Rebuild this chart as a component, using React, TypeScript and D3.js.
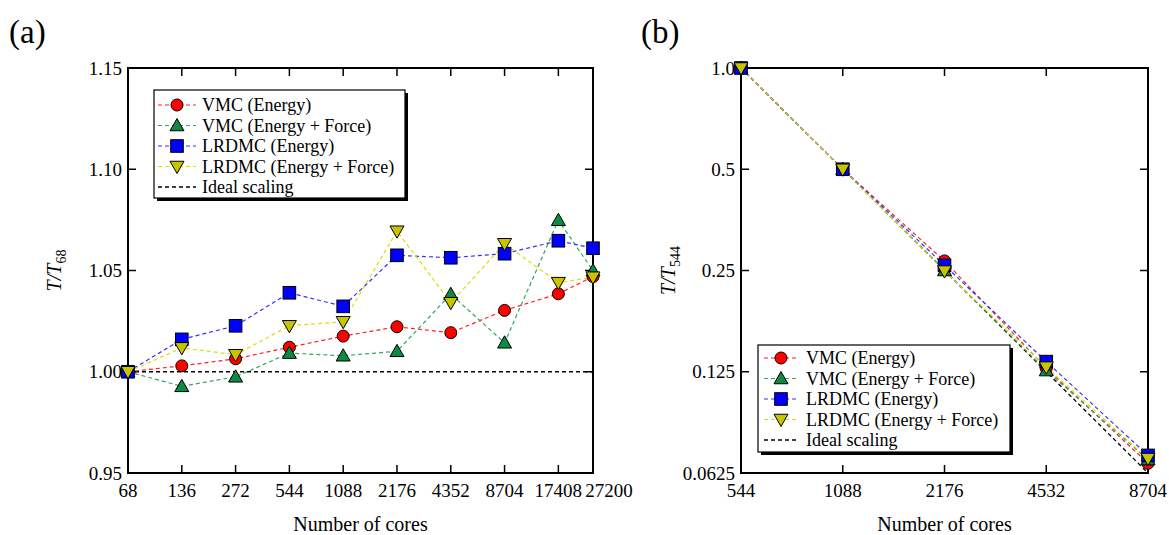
import React from "react";
import * as d3 from "d3";

// ---------- Data ----------
const coresA = [68, 136, 272, 544, 1088, 2176, 4352, 8704, 17408, 27200];
const vmcEnergyA = [1.0, 1.0029, 1.0064, 1.0121, 1.0176, 1.0222, 1.0193, 1.0303, 1.0385, 1.047];
const vmcForceA = [1.0, 0.9928, 0.9975, 1.0092, 1.0079, 1.0101, 1.0383, 1.0143, 1.0748, 1.0499];
const lrdmcEnergyA = [1.0, 1.016, 1.0227, 1.039, 1.0323, 1.0575, 1.0563, 1.0583, 1.0647, 1.061];
const lrdmcForceA = [1.0, 1.0118, 1.0084, 1.0227, 1.0247, 1.0694, 1.0341, 1.0632, 1.044, 1.0467];
const idealA = [1.0, 1.0, 1.0, 1.0, 1.0, 1.0, 1.0, 1.0, 1.0, 1.0];
const xTickLabelsA = ["68", "136", "272", "544", "1088", "2176", "4352", "8704", "17408", "27200"];
const yTicksA = [0.95, 1.0, 1.05, 1.1, 1.15];
const yTickLabelsA = ["0.95", "1.00", "1.05", "1.10", "1.15"];

const coresB = [544, 1088, 2176, 4352, 8704];
const vmcEnergyB = [1.0, 0.5, 0.267, 0.128, 0.0668];
const vmcForceB = [1.0, 0.5, 0.25, 0.126, 0.0685];
const lrdmcEnergyB = [1.0, 0.5, 0.259, 0.134, 0.0705];
const lrdmcForceB = [1.0, 0.5, 0.249, 0.129, 0.069];
const idealB = [1.0, 0.5, 0.25, 0.125, 0.0625];
const xTickLabelsB = ["544", "1088", "2176", "4532", "8704"];
const yTicksB = [0.0625, 0.125, 0.25, 0.5, 1.0];
const yTickLabelsB = ["0.0625", "0.125", "0.25", "0.5", "1.0"];

const seriesNames = [
  "VMC (Energy)",
  "VMC (Energy + Force)",
  "LRDMC (Energy)",
  "LRDMC (Energy + Force)",
  "Ideal scaling",
];

// ---------- Styles ----------
const FONT = "Liberation Serif, Times New Roman, Times, DejaVu Serif, serif";
const textStyle = { fontFamily: FONT };
const styles = [
  { marker: "circle", fill: "#ff0000", line: "#ff2020" },
  { marker: "triangle", fill: "#0e8a45", line: "#2fa860" },
  { marker: "square", fill: "#0000ff", line: "#3030ff" },
  { marker: "triangleDown", fill: "#c8c400", line: "#dcdc10" },
];

function Marker({ kind, x, y, fill }: { kind: string; x: number; y: number; fill: string }) {
  const s = 6.3;
  if (kind === "circle") return <circle cx={x} cy={y} r={6} fill={fill} stroke="#000" strokeWidth={1} />;
  if (kind === "square")
    return <rect x={x - s} y={y - s} width={2 * s} height={2 * s} fill={fill} stroke="#000" strokeWidth={1} />;
  if (kind === "triangle") {
    const h = 7;
    const pts = `${x},${y - h} ${x + h},${y + h * 0.75} ${x - h},${y + h * 0.75}`;
    return <polygon points={pts} fill={fill} stroke="#000" strokeWidth={1} />;
  }
  const h = 7;
  const pts = `${x},${y + h} ${x + h},${y - h * 0.75} ${x - h},${y - h * 0.75}`;
  return <polygon points={pts} fill={fill} stroke="#000" strokeWidth={1} />;
}

type PanelProps = {
  left: number; right: number; top: number; bottom: number;
  xs: number[]; series: number[][]; ideal: number[];
  xLabels: string[]; yTicks: number[]; yLabels: string[];
  yDomain: [number, number]; yLog: boolean; lastLabelShift: number;
  sub: string; tag: string; tagX: number; titleX: number;
  legend: { x0: number; y0: number; x1: number; y1: number; rowY: number; markerX: number; lineX0: number; lineX1: number; textX: number };
};

function Panel(p: PanelProps) {
  const x = d3.scaleLog().base(2).domain([p.xs[0], p.xs[p.xs.length - 1]]).range([p.left, p.right]);
  const y = p.yLog
    ? d3.scaleLog().base(2).domain(p.yDomain).range([p.bottom, p.top])
    : d3.scaleLinear().domain(p.yDomain).range([p.bottom, p.top]);
  const line = d3.line<number>().x((_, i) => x(p.xs[i])).y((v) => y(v));
  const tl = 8;
  const rowH = 20.5;
  const L = p.legend;
  const n = p.xs.length;
  return (
    <g style={textStyle}>
      <text x={p.tagX} y={43} fontFamily={FONT} fontSize={33}>{p.tag}</text>
      {/* ideal line */}
      <path d={line(p.ideal) || ""} fill="none" stroke="#000" strokeWidth={1.3} strokeDasharray="4,3" />
      {p.series.map((s, k) => (
        <path key={"l" + k} d={line(s) || ""} fill="none" stroke={styles[k].line} strokeWidth={1.2} strokeDasharray="4,3" />
      ))}
      {/* frame */}
      <rect x={p.left} y={p.top} width={p.right - p.left} height={p.bottom - p.top} fill="none" stroke="#000" strokeWidth={2} />
      {/* x ticks */}
      {p.xs.map((v, i) => (
        <g key={"xt" + i}>
          <line x1={x(v)} x2={x(v)} y1={p.bottom} y2={p.bottom - tl} stroke="#000" strokeWidth={1.5} />
          <line x1={x(v)} x2={x(v)} y1={p.top} y2={p.top + tl} stroke="#000" strokeWidth={1.5} />
          <text x={x(v) + (i === n - 1 ? p.lastLabelShift : 0)} y={p.bottom + 24} textAnchor="middle" fontFamily={FONT} fontSize={19}>{p.xLabels[i]}</text>
        </g>
      ))}
      {/* y ticks */}
      {p.yTicks.map((v, i) => (
        <g key={"yt" + i}>
          <line x1={p.left} x2={p.left + tl} y1={y(v)} y2={y(v)} stroke="#000" strokeWidth={1.5} />
          <line x1={p.right} x2={p.right - tl} y1={y(v)} y2={y(v)} stroke="#000" strokeWidth={1.5} />
          <text x={p.left - 6} y={y(v)} dy="0.35em" textAnchor="end" fontFamily={FONT} fontSize={19}>{p.yLabels[i]}</text>
        </g>
      ))}
      {/* markers */}
      {p.series.map((s, k) =>
        s.map((v, i) => <Marker key={"m" + k + "-" + i} kind={styles[k].marker} x={x(p.xs[i])} y={y(v)} fill={styles[k].fill} />)
      )}
      {/* axis titles */}
      <text x={(p.left + p.right) / 2} y={531} textAnchor="middle" fontFamily={FONT} fontSize={20}>Number of cores</text>
      <text transform={`translate(${p.titleX},${(p.top + p.bottom) / 2}) rotate(-90)`} textAnchor="middle" fontFamily={FONT} fontSize={20}>
        <tspan fontStyle="italic">T/T</tspan>
        <tspan fontSize={14} dy={5}>{p.sub}</tspan>
      </text>
      {/* legend */}
      <rect x={L.x0 + 3} y={L.y0 + 3} width={L.x1 - L.x0} height={L.y1 - L.y0} fill="#000" />
      <rect x={L.x0} y={L.y0} width={L.x1 - L.x0} height={L.y1 - L.y0} fill="#fff" stroke="#000" strokeWidth={1.2} />
      {seriesNames.map((name, k) => {
        const ry = L.rowY + k * rowH;
        const col = k < 4 ? styles[k].line : "#000";
        return (
          <g key={"lg" + k}>
            <line x1={L.lineX0} x2={L.lineX1} y1={ry} y2={ry} stroke={col} strokeWidth={k < 4 ? 1.2 : 1.3} strokeDasharray="4,3" />
            {k < 4 && <Marker kind={styles[k].marker} x={L.markerX} y={ry} fill={styles[k].fill} />}
            <text x={L.textX} y={ry} dy="0.35em" fontFamily={FONT} fontSize={18}>{name}</text>
          </g>
        );
      })}
    </g>
  );
}

export default function App() {
  return (
    <svg width={1169} height={535} style={{ position: "absolute", left: 0, top: 0, background: "#fff" }}>
      <rect width={1169} height={535} fill="#fff" />
      <Panel
        left={128} right={593} top={68} bottom={473}
        xs={coresA} series={[vmcEnergyA, vmcForceA, lrdmcEnergyA, lrdmcForceA]} ideal={idealA}
        xLabels={xTickLabelsA} yTicks={yTicksA} yLabels={yTickLabelsA}
        yDomain={[0.95, 1.15]} yLog={false} lastLabelShift={16} sub="68" tag="(a)" tagX={9} titleX={61}
        legend={{ x0: 154, y0: 90, x1: 405, y1: 198, rowY: 105, markerX: 177, lineX0: 158, lineX1: 196, textX: 202 }}
      />
      <Panel
        left={741} right={1148} top={68} bottom={473}
        xs={coresB} series={[vmcEnergyB, vmcForceB, lrdmcEnergyB, lrdmcForceB]} ideal={idealB}
        xLabels={xTickLabelsB} yTicks={yTicksB} yLabels={yTickLabelsB}
        yDomain={[0.0625, 1.0]} yLog={true} lastLabelShift={0} sub="544" tag="(b)" tagX={641} titleX={675}
        legend={{ x0: 758, y0: 345, x1: 1010, y1: 452, rowY: 358, markerX: 781, lineX0: 764, lineX1: 798, textX: 806 }}
      />
    </svg>
  );
}
